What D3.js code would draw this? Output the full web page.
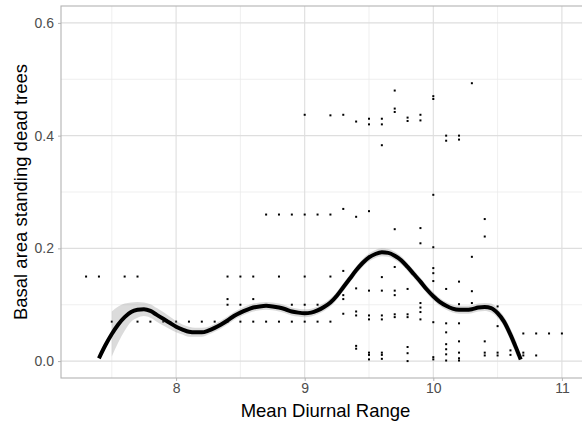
<!DOCTYPE html>
<html>
<head>
<meta charset="utf-8">
<script src="https://cdn.jsdelivr.net/npm/d3@7"></script>
<style>
  body { margin: 0; background: #fff; }
  svg { display: block; font-family: "Liberation Sans", Arial, sans-serif; }
</style>
</head>
<body>
<svg id="chart"></svg>
<script>
// Observed points: x (mean diurnal range) and y (basal area of standing dead trees)
const pointX = [
  7.3, 7.4, 7.5, 7.6, 7.7, 7.7, 7.8, 7.9, 8.0, 8.1, 8.2, 8.3,
  8.4, 8.4, 8.4, 8.4, 8.5, 8.5, 8.5, 8.6, 8.6, 8.6,
  8.7, 8.7, 8.8, 8.8, 8.8, 8.9, 8.9, 8.9,
  9.0, 9.0, 9.0, 9.0, 9.0, 9.1, 9.1, 9.1, 9.2, 9.2, 9.2, 9.2,
  9.3, 9.3, 9.3, 9.3, 9.3, 9.3,
  9.4, 9.4, 9.4, 9.4, 9.4, 9.4, 9.4,
  9.5, 9.5, 9.5, 9.5, 9.5, 9.5, 9.5, 9.5, 9.5,
  9.6, 9.6, 9.6, 9.6, 9.6, 9.6, 9.6, 9.6, 9.6, 9.6,
  9.7, 9.7, 9.7, 9.7, 9.7, 9.7, 9.7, 9.7, 9.7,
  9.8, 9.8, 9.8, 9.8, 9.8, 9.8, 9.8, 9.8,
  9.9, 9.9, 9.9, 9.9, 9.9, 9.9, 9.9, 9.9,
  10.0, 10.0, 10.0, 10.0, 10.0, 10.0, 10.0, 10.0, 10.0, 10.0,
  10.1, 10.1, 10.1, 10.1, 10.1, 10.1, 10.1, 10.1, 10.1,
  10.2, 10.2, 10.2, 10.2, 10.2, 10.2, 10.2, 10.2, 10.2,
  10.3, 10.3, 10.3, 10.3,
  10.4, 10.4, 10.4, 10.4, 10.4,
  10.5, 10.5, 10.5, 10.5,
  10.6, 10.6,
  10.7, 10.7, 10.7,
  10.8, 10.8, 10.9, 11.0
];
const pointY = [
  0.15, 0.15, 0.07, 0.15, 0.15, 0.07, 0.07, 0.07, 0.07, 0.07, 0.07, 0.07,
  0.15, 0.11, 0.10, 0.07, 0.15, 0.10, 0.07, 0.15, 0.11, 0.07,
  0.26, 0.07, 0.26, 0.15, 0.07, 0.26, 0.10, 0.07,
  0.437, 0.26, 0.15, 0.10, 0.07, 0.26, 0.10, 0.07, 0.436, 0.26, 0.15, 0.07,
  0.437, 0.27, 0.16, 0.117, 0.11, 0.084,
  0.425, 0.256, 0.129, 0.088, 0.081, 0.027, 0.022,
  0.43, 0.42, 0.266, 0.125, 0.081, 0.074, 0.015, 0.011, 0.003,
  0.43, 0.42, 0.383, 0.149, 0.125, 0.081, 0.074, 0.015, 0.011, 0.004,
  0.48, 0.448, 0.442, 0.234, 0.167, 0.125, 0.117, 0.083, 0.078,
  0.432, 0.426, 0.128, 0.083, 0.078, 0.025, 0.014, 0.0,
  0.437, 0.427, 0.236, 0.209, 0.103, 0.095, 0.087, 0.074,
  0.47, 0.465, 0.295, 0.202, 0.165, 0.156, 0.142, 0.069, 0.007, 0.003,
  0.40, 0.391, 0.128, 0.067, 0.051, 0.03, 0.021, 0.012, 0.001,
  0.40, 0.393, 0.141, 0.101, 0.067, 0.035, 0.015, 0.005, 0.001,
  0.493, 0.185, 0.124, 0.103,
  0.252, 0.221, 0.035, 0.015, 0.01,
  0.097, 0.062, 0.015, 0.01,
  0.019, 0.011,
  0.049, 0.015, 0.01,
  0.049, 0.01, 0.049, 0.049
];

// Smoothed fit (loess), with its standard error band
const smoothX = [
  7.40, 7.45, 7.50, 7.55, 7.60, 7.65, 7.70, 7.75, 7.80, 7.85, 7.90, 7.95,
  8.00, 8.05, 8.10, 8.15, 8.20, 8.25, 8.30, 8.35, 8.40, 8.45, 8.50, 8.55,
  8.60, 8.65, 8.70, 8.75, 8.80, 8.85, 8.90, 8.95, 9.00, 9.05, 9.10, 9.15,
  9.20, 9.25, 9.30, 9.35, 9.40, 9.45, 9.50, 9.55, 9.60, 9.65, 9.70, 9.75,
  9.80, 9.85, 9.90, 9.95, 10.00, 10.05, 10.10, 10.15, 10.20, 10.25, 10.30,
  10.35, 10.40, 10.45, 10.50, 10.55, 10.60, 10.65, 10.68
];
const smoothY = [
  0.005, 0.028, 0.048, 0.065, 0.078, 0.087, 0.091, 0.092, 0.089, 0.082, 0.075, 0.068,
  0.061, 0.056, 0.052, 0.051, 0.051, 0.054, 0.059, 0.065, 0.072, 0.080, 0.086, 0.091,
  0.095, 0.097, 0.098, 0.097, 0.095, 0.092, 0.088, 0.086, 0.085, 0.086, 0.090, 0.096,
  0.104, 0.116, 0.131, 0.146, 0.161, 0.174, 0.184, 0.190, 0.193, 0.192, 0.187, 0.179,
  0.167, 0.154, 0.141, 0.127, 0.115, 0.105, 0.098, 0.093, 0.091, 0.091, 0.092,
  0.095, 0.096, 0.094, 0.085, 0.070, 0.047, 0.020, 0.003
];
const smoothSe = [
  0.050, 0.045, 0.040, 0.032, 0.024, 0.017, 0.014, 0.012, 0.012, 0.012, 0.012, 0.011,
  0.010, 0.009, 0.009, 0.008, 0.008, 0.007, 0.007, 0.007, 0.007, 0.007, 0.007, 0.007,
  0.007, 0.007, 0.007, 0.007, 0.007, 0.007, 0.007, 0.007, 0.007, 0.007, 0.007, 0.007,
  0.007, 0.007, 0.007, 0.007, 0.007, 0.007, 0.007, 0.007, 0.007, 0.007, 0.007, 0.007,
  0.007, 0.007, 0.007, 0.007, 0.007, 0.007, 0.007, 0.007, 0.007, 0.007, 0.007,
  0.007, 0.007, 0.008, 0.008, 0.009, 0.011, 0.012, 0.018
];

const xTicks = [8, 9, 10, 11];
const xMinor = [7.5, 8.5, 9.5, 10.5];
const yTicks = [0, 0.2, 0.4, 0.6];
const yMinor = [0.1, 0.3, 0.5];

// Sizes
const width = 582;
const height = 433;
const marginTop = 6;
const marginLeft = 61;
const marginBottom = 55;

const svg = d3.select("#chart")
    .attr("width", width)
    .attr("height", height)
    .attr("viewBox", [0, 0, width, height]);

const x = d3.scaleLinear()
    .domain([7.105, 11.18])
    .range([marginLeft, marginLeft + 4.075 * 128.6]);

const y = d3.scaleLinear()
    .domain([-0.03, 0.63])
    .range([height - marginBottom, marginTop]);

const panelRight = x.range()[1];

svg.append("clipPath").attr("id", "clip")
  .append("rect")
    .attr("x", marginLeft).attr("y", marginTop)
    .attr("width", panelRight - marginLeft)
    .attr("height", y.range()[0] - marginTop);

const grid = svg.append("g");

// minor grid
grid.selectAll(".xminor").data(xMinor).join("line")
    .attr("x1", d => x(d)).attr("x2", d => x(d))
    .attr("y1", marginTop).attr("y2", y.range()[0])
    .attr("stroke", "#ebebeb").attr("stroke-width", 0.8);
grid.selectAll(".yminor").data(yMinor).join("line")
    .attr("y1", d => y(d)).attr("y2", d => y(d))
    .attr("x1", marginLeft).attr("x2", panelRight)
    .attr("stroke", "#ebebeb").attr("stroke-width", 0.8);

// major grid
grid.selectAll(".xmajor").data(xTicks).join("line")
    .attr("x1", d => x(d)).attr("x2", d => x(d))
    .attr("y1", marginTop).attr("y2", y.range()[0])
    .attr("stroke", "#dedede").attr("stroke-width", 1.1);
grid.selectAll(".ymajor").data(yTicks).join("line")
    .attr("y1", d => y(d)).attr("y2", d => y(d))
    .attr("x1", marginLeft).attr("x2", panelRight)
    .attr("stroke", "#dedede").attr("stroke-width", 1.1);

// points
const points = pointX.map((d, i) => ({x: d, y: pointY[i]}));
svg.append("g")
    .attr("clip-path", "url(#clip)")
  .selectAll("rect")
  .data(points)
  .join("rect")
    .attr("x", d => x(d.x) - 1)
    .attr("y", d => y(d.y) - 1)
    .attr("width", 2)
    .attr("height", 2)
    .attr("fill", "#000");

// smooth: ribbon only where the band stays inside the y limits, like ggplot does
const smooth = smoothX.map((d, i) => ({x: d, y: smoothY[i], lo: smoothY[i] - smoothSe[i], hi: smoothY[i] + smoothSe[i]}));

svg.append("path")
    .datum(smooth.filter(d => d.lo >= 0))
    .attr("fill", "#999999")
    .attr("fill-opacity", 0.35)
    .attr("d", d3.area()
        .x(d => x(d.x))
        .y0(d => y(d.lo))
        .y1(d => y(d.hi))
        .curve(d3.curveMonotoneX));

svg.append("path")
    .datum(smooth)
    .attr("fill", "none")
    .attr("stroke", "#000")
    .attr("stroke-width", 4)
    .attr("stroke-linejoin", "round")
    .attr("d", d3.line()
        .x(d => x(d.x))
        .y(d => y(d.y))
        .curve(d3.curveMonotoneX));

// panel border
svg.append("rect")
    .attr("x", marginLeft).attr("y", marginTop)
    .attr("width", panelRight - marginLeft)
    .attr("height", y.range()[0] - marginTop)
    .attr("fill", "none")
    .attr("stroke", "#b3b3b3")
    .attr("stroke-width", 1.1);

// axes
const xAxis = svg.append("g")
    .attr("transform", `translate(0,${y.range()[0]})`)
    .call(d3.axisBottom(x).tickValues(xTicks).tickSize(3).tickPadding(2).tickFormat(d3.format("d")));
xAxis.select(".domain").remove();
xAxis.selectAll("line").attr("stroke", "#b3b3b3");
xAxis.selectAll("text").attr("fill", "#4d4d4d").style("font-size", "14px");

const yAxis = svg.append("g")
    .attr("transform", `translate(${marginLeft},0)`)
    .call(d3.axisLeft(y).tickValues(yTicks).tickSize(3).tickPadding(4).tickFormat(d3.format(".1f")));
yAxis.select(".domain").remove();
yAxis.selectAll("line").attr("stroke", "#b3b3b3");
yAxis.selectAll("text").attr("fill", "#4d4d4d").style("font-size", "14px");

// axis titles
svg.append("text")
    .attr("x", (marginLeft + 582) / 2 + 4)
    .attr("y", 417)
    .attr("text-anchor", "middle")
    .attr("fill", "#000")
    .style("font-size", "18.5px")
    .text("Mean Diurnal Range");

svg.append("text")
    .attr("transform", `translate(27,${(marginTop + y.range()[0]) / 2}) rotate(-90)`)
    .attr("text-anchor", "middle")
    .attr("fill", "#000")
    .style("font-size", "18.5px")
    .text("Basal area standing dead trees");
</script>
</body>
</html>
